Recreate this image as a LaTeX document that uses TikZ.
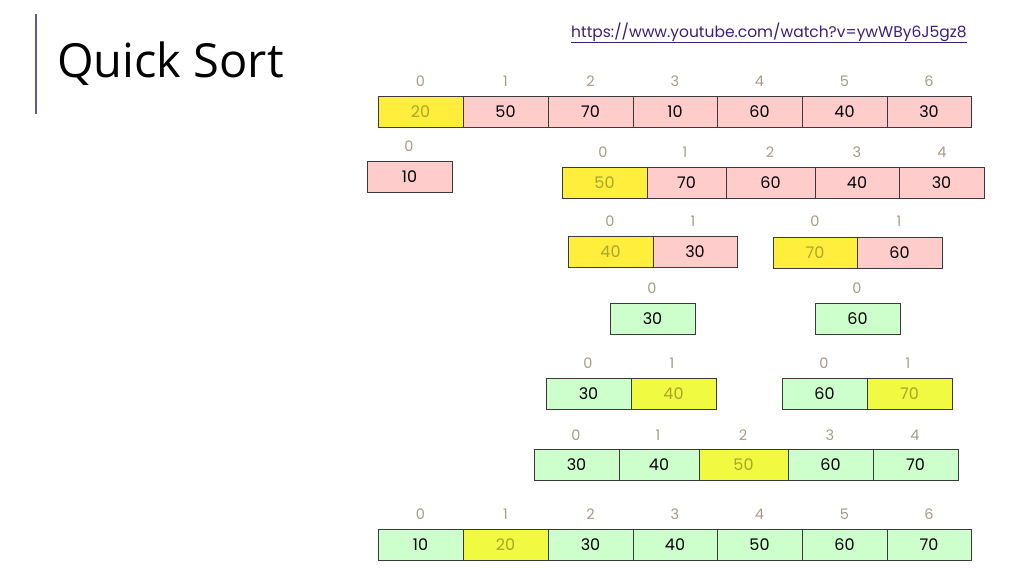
\documentclass[tikz,border=0pt]{standalone}
\usepackage{fontspec}
\setmainfont{Poppins}
\newfontfamily\titlefont{Open Sans}
\definecolor{pinkc}{HTML}{FFCCCC}
\definecolor{greenc}{HTML}{CCFFCC}
\definecolor{yelA}{HTML}{FFEE3C}
\definecolor{yelB}{HTML}{F0FA40}
\definecolor{yeltext}{HTML}{ABA52A}
\definecolor{idxc}{HTML}{A39C88}
\definecolor{edgec}{HTML}{3A3A3A}
\definecolor{barc}{HTML}{5E5A8C}
\definecolor{urlc}{HTML}{3A1F7A}
\newcommand\qcell[6]{%
  \node[cellbox,#5,minimum width={(#3-#2)*1pt}] (#1) at ({(#2+#3)/2},{#4+15.5}) {#6};}
\newcommand\qidx[4]{%
  \node[idxlab] (#1) at (#2,#3) {#4};}
\begin{document}
\begin{tikzpicture}[x=1pt,y=-1pt,
  cellbox/.style={draw=edgec,line width=0.9pt,minimum height=31pt,inner sep=0pt,
     font=\fontsize{16}{16}\selectfont,text=black},
  pk/.style={fill=pinkc},
  gr/.style={fill=greenc},
  ya/.style={fill=yelA,text=yeltext},
  yb/.style={fill=yelB,text=yeltext},
  idxlab/.style={inner sep=0pt,text=idxc,font=\fontsize{14.5}{14.5}\selectfont}]
\useasboundingbox (0,0) rectangle (1024,576);
% title and bar
\draw[barc,line width=2pt] (35.7,14) coordinate (b1) -- (35.7,114) coordinate (b2);
\node[anchor=base west,inner sep=0pt,font=\titlefont\fontsize{47}{47}\selectfont] (title) at (57,77) {Quick Sort};
\node[anchor=base west,inner sep=0pt,text=urlc,font=\fontsize{15.5}{15.5}\selectfont] (url) at (571,37) {\underline{https://www.youtube.com/watch?v=ywWBy6J5gz8}};
% row 1
\qcell{a0}{378}{463}{96}{ya}{20}
\qcell{a1}{463}{548}{96}{pk}{50}
\qcell{a2}{548}{633}{96}{pk}{70}
\qcell{a3}{633}{717}{96}{pk}{10}
\qcell{a4}{717}{802}{96}{pk}{60}
\qcell{a5}{802}{887}{96}{pk}{40}
\qcell{a6}{887}{971}{96}{pk}{30}
\qidx{ia0}{420.5}{81}{0}\qidx{ia1}{505.5}{81}{1}\qidx{ia2}{590.5}{81}{2}\qidx{ia3}{675}{81}{3}
\qidx{ia4}{759.5}{81}{4}\qidx{ia5}{844.5}{81}{5}\qidx{ia6}{929}{81}{6}
% row 2
\qcell{b0}{367}{452}{161}{pk}{10}
\qidx{ib0}{409}{146}{0}
\qcell{c0}{562}{647}{167}{ya}{50}
\qcell{c1}{647}{726}{167}{pk}{70}
\qcell{c2}{726}{815}{167}{pk}{60}
\qcell{c3}{815}{899}{167}{pk}{40}
\qcell{c4}{899}{984}{167}{pk}{30}
\qidx{ic0}{603}{152}{0}\qidx{ic1}{685}{152}{1}\qidx{ic2}{770}{152}{2}\qidx{ic3}{857}{152}{3}\qidx{ic4}{942}{152}{4}
% row 3
\qcell{d0}{568}{653}{236}{ya}{40}
\qcell{d1}{653}{737}{236}{pk}{30}
\qidx{id0}{610}{221}{0}\qidx{id1}{693}{221}{1}
\qcell{e0}{773}{857}{237}{ya}{70}
\qcell{e1}{857}{942}{237}{pk}{60}
\qidx{ie0}{815}{221}{0}\qidx{ie1}{899}{221}{1}
% row 4
\qcell{f0}{610}{695}{303}{gr}{30}
\qidx{if0}{652}{288}{0}
\qcell{g0}{815}{900}{303}{gr}{60}
\qidx{ig0}{857}{288}{0}
% row 5
\qcell{h0}{546}{631}{378}{gr}{30}
\qcell{h1}{631}{716}{378}{yb}{40}
\qidx{ih0}{588}{363}{0}\qidx{ih1}{672}{363}{1}
\qcell{k0}{782}{867}{378}{gr}{60}
\qcell{k1}{867}{952}{378}{yb}{70}
\qidx{ik0}{824}{363}{0}\qidx{ik1}{908}{363}{1}
% row 6
\qcell{m0}{534}{619}{449.5}{gr}{30}
\qcell{m1}{619}{699}{449.5}{gr}{40}
\qcell{m2}{699}{788}{449.5}{yb}{50}
\qcell{m3}{788}{873}{449.5}{gr}{60}
\qcell{m4}{873}{958}{449.5}{gr}{70}
\qidx{im0}{576}{435}{0}\qidx{im1}{658}{435}{1}\qidx{im2}{743}{435}{2}\qidx{im3}{830}{435}{3}\qidx{im4}{915}{435}{4}
% row 7
\qcell{n0}{378}{463}{529}{gr}{10}
\qcell{n1}{463}{548}{529}{yb}{20}
\qcell{n2}{548}{633}{529}{gr}{30}
\qcell{n3}{633}{717}{529}{gr}{40}
\qcell{n4}{717}{802}{529}{gr}{50}
\qcell{n5}{802}{887}{529}{gr}{60}
\qcell{n6}{887}{971}{529}{gr}{70}
\qidx{in0}{420.5}{514}{0}\qidx{in1}{505.5}{514}{1}\qidx{in2}{590.5}{514}{2}\qidx{in3}{675}{514}{3}
\qidx{in4}{759.5}{514}{4}\qidx{in5}{844.5}{514}{5}\qidx{in6}{929}{514}{6}
\end{tikzpicture}
\end{document}
